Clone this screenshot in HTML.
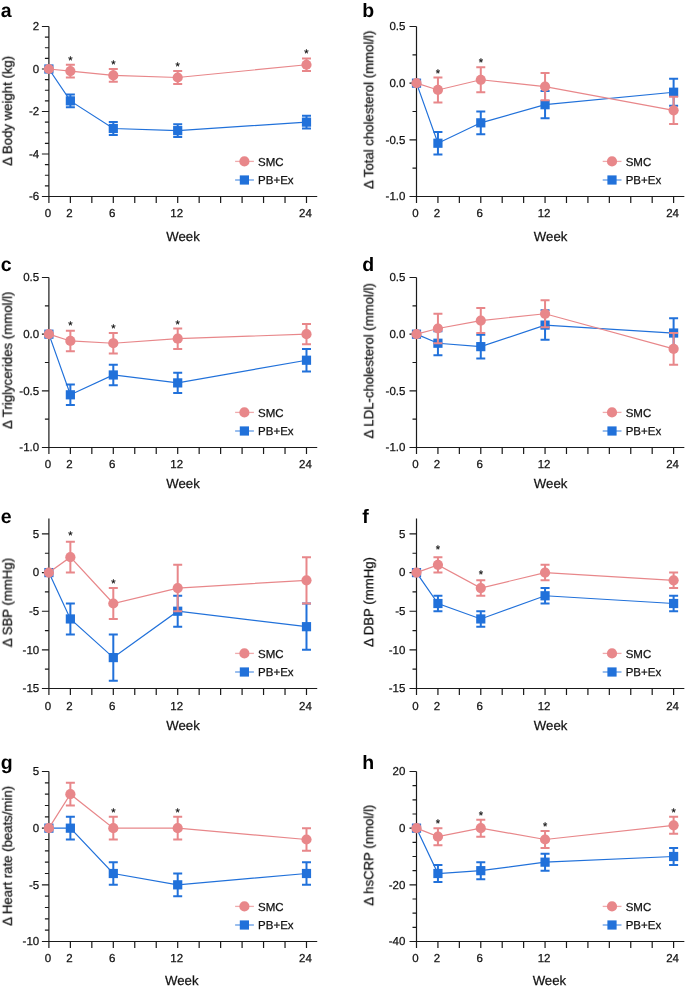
<!DOCTYPE html>
<html><head><meta charset="utf-8"><style>
html,body{margin:0;padding:0;background:#fff;}
svg{display:block;}
text{will-change:transform;text-rendering:geometricPrecision;}
text{font-family:"Liberation Sans",sans-serif;fill:#111;stroke:#111;stroke-width:0.25px;}
.L{stroke:none;}
.L{font-weight:bold;font-size:19.5px;fill:#000;}
.t{font-size:11.5px;}
.w{font-size:13.2px;}
.s{font-size:11px;}
.ax{stroke:#1a1a1a;stroke-width:1.2;fill:none;}
</style></head><body>
<svg width="685" height="987" viewBox="0 0 685 987">
<rect width="685" height="987" fill="#fff"/>
<text class="L" x="0.8" y="17.0">a</text>
<path class="ax" d="M48.9 26.5V196.5H317.22"/>
<path class="ax" d="M41.9 196.5H48.9M44.9 185.88H48.9M44.9 175.25H48.9M44.9 164.62H48.9M41.9 154H48.9M44.9 143.38H48.9M44.9 132.75H48.9M44.9 122.12H48.9M41.9 111.5H48.9M44.9 100.88H48.9M44.9 90.25H48.9M44.9 79.62H48.9M41.9 69H48.9M44.9 58.38H48.9M44.9 47.75H48.9M44.9 37.12H48.9M41.9 26.5H48.9M48.9 196.5v6.5M70.37 196.5v6.5M91.83 196.5v6.5M113.3 196.5v6.5M134.76 196.5v6.5M156.23 196.5v6.5M177.7 196.5v6.5M199.16 196.5v6.5M220.63 196.5v6.5M242.09 196.5v6.5M263.56 196.5v6.5M285.03 196.5v6.5M306.49 196.5v6.5"/>
<text class="t" x="39.2" y="30.4" text-anchor="end">2</text>
<text class="t" x="39.2" y="72.9" text-anchor="end">0</text>
<text class="t" x="39.2" y="115.4" text-anchor="end">-2</text>
<text class="t" x="39.2" y="157.9" text-anchor="end">-4</text>
<text class="t" x="39.2" y="200.4" text-anchor="end">-6</text>
<text class="t" x="47.9" y="217.1" text-anchor="middle">0</text>
<text class="t" x="69.37" y="217.1" text-anchor="middle">2</text>
<text class="t" x="112.3" y="217.1" text-anchor="middle">6</text>
<text class="t" x="176.7" y="217.1" text-anchor="middle">12</text>
<text class="t" x="305.49" y="217.1" text-anchor="middle">24</text>
<text class="w" x="183" y="240.8" text-anchor="middle">Week</text>
<text class="w" transform="translate(11.8 110.8) rotate(-90)" text-anchor="middle">Δ Body weight (kg)</text>
<polyline fill="none" stroke="#2171DA" stroke-width="1.2" points="48.9,69 70.37,100.88 113.3,128.5 177.7,130.62 306.49,122.12"/>
<path stroke="#2171DA" stroke-width="2" fill="none" d="M70.37 94.5V107.25M65.87 94.5h9M65.87 107.25h9"/>
<path stroke="#2171DA" stroke-width="2" fill="none" d="M113.3 122.12V134.88M108.8 122.12h9M108.8 134.88h9"/>
<path stroke="#2171DA" stroke-width="2" fill="none" d="M177.7 124.25V137M173.2 124.25h9M173.2 137h9"/>
<path stroke="#2171DA" stroke-width="2" fill="none" d="M306.49 115.75V128.5M301.99 115.75h9M301.99 128.5h9"/>
<rect x="44.3" y="64.4" width="9.2" height="9.2" fill="#2171DA"/>
<rect x="65.77" y="96.28" width="9.2" height="9.2" fill="#2171DA"/>
<rect x="108.7" y="123.9" width="9.2" height="9.2" fill="#2171DA"/>
<rect x="173.1" y="126.03" width="9.2" height="9.2" fill="#2171DA"/>
<rect x="301.89" y="117.53" width="9.2" height="9.2" fill="#2171DA"/>
<polyline fill="none" stroke="#E8878A" stroke-width="1.2" points="48.9,69 70.37,71.12 113.3,75.38 177.7,77.5 306.49,64.75"/>
<path stroke="#E8878A" stroke-width="2" fill="none" d="M70.37 64.75V77.5M65.87 64.75h9M65.87 77.5h9"/>
<path stroke="#E8878A" stroke-width="2" fill="none" d="M113.3 69V81.75M108.8 69h9M108.8 81.75h9"/>
<path stroke="#E8878A" stroke-width="2" fill="none" d="M177.7 71.12V83.88M173.2 71.12h9M173.2 83.88h9"/>
<path stroke="#E8878A" stroke-width="2" fill="none" d="M306.49 58.38V71.12M301.99 58.38h9M301.99 71.12h9"/>
<circle cx="48.9" cy="69" r="5.1" fill="#E8878A"/>
<circle cx="70.37" cy="71.12" r="5.1" fill="#E8878A"/>
<circle cx="113.3" cy="75.38" r="5.1" fill="#E8878A"/>
<circle cx="177.7" cy="77.5" r="5.1" fill="#E8878A"/>
<circle cx="306.49" cy="64.75" r="5.1" fill="#E8878A"/>
<text class="s" x="70.37" y="63.85" text-anchor="middle">*</text>
<text class="s" x="113.3" y="68.1" text-anchor="middle">*</text>
<text class="s" x="177.7" y="70.22" text-anchor="middle">*</text>
<text class="s" x="306.49" y="57.48" text-anchor="middle">*</text>
<path stroke="#E8878A" stroke-opacity="0.7" stroke-width="1.3" d="M235.1 161.4h18.8"/>
<circle cx="244.4" cy="161.4" r="5.1" fill="#E8878A"/>
<text class="t" x="258.1" y="165.7">SMC</text>
<path stroke="#2171DA" stroke-opacity="0.7" stroke-width="1.3" d="M235.1 180h18.8"/>
<rect x="239.8" y="175.4" width="9.2" height="9.2" fill="#2171DA"/>
<text class="t" x="258.1" y="184.3">PB+Ex</text>
<text class="L" x="362.3" y="17.0">b</text>
<path class="ax" d="M416.5 26.5V196.5H684.33"/>
<path class="ax" d="M409.5 196.5H416.5M412.5 168.17H416.5M409.5 139.83H416.5M412.5 111.5H416.5M409.5 83.17H416.5M412.5 54.83H416.5M409.5 26.5H416.5M416.5 196.5v6.5M437.93 196.5v6.5M459.35 196.5v6.5M480.78 196.5v6.5M502.2 196.5v6.5M523.63 196.5v6.5M545.06 196.5v6.5M566.48 196.5v6.5M587.91 196.5v6.5M609.33 196.5v6.5M630.76 196.5v6.5M652.19 196.5v6.5M673.61 196.5v6.5"/>
<text class="t" x="405.4" y="30.4" text-anchor="end">0.5</text>
<text class="t" x="405.4" y="87.07" text-anchor="end">0.0</text>
<text class="t" x="405.4" y="143.73" text-anchor="end">-0.5</text>
<text class="t" x="405.4" y="200.4" text-anchor="end">-1.0</text>
<text class="t" x="415.5" y="217.1" text-anchor="middle">0</text>
<text class="t" x="436.93" y="217.1" text-anchor="middle">2</text>
<text class="t" x="479.78" y="217.1" text-anchor="middle">6</text>
<text class="t" x="544.06" y="217.1" text-anchor="middle">12</text>
<text class="t" x="672.61" y="217.1" text-anchor="middle">24</text>
<text class="w" x="550.6" y="240.8" text-anchor="middle">Week</text>
<text class="w" transform="translate(373.2 109.75) rotate(-90)" text-anchor="middle">Δ Total cholesterol (mmol/l)</text>
<polyline fill="none" stroke="#2171DA" stroke-width="1.2" points="416.5,83.17 437.93,143.23 480.78,122.83 545.06,104.7 673.61,92.23"/>
<path stroke="#2171DA" stroke-width="2" fill="none" d="M437.93 131.9V154.57M433.43 131.9h9M433.43 154.57h9"/>
<path stroke="#2171DA" stroke-width="2" fill="none" d="M480.78 111.5V134.17M476.28 111.5h9M476.28 134.17h9"/>
<path stroke="#2171DA" stroke-width="2" fill="none" d="M545.06 91.1V118.3M540.56 91.1h9M540.56 118.3h9"/>
<path stroke="#2171DA" stroke-width="2" fill="none" d="M673.61 78.63V105.83M669.11 78.63h9M669.11 105.83h9"/>
<rect x="411.9" y="78.57" width="9.2" height="9.2" fill="#2171DA"/>
<rect x="433.33" y="138.63" width="9.2" height="9.2" fill="#2171DA"/>
<rect x="476.18" y="118.23" width="9.2" height="9.2" fill="#2171DA"/>
<rect x="540.46" y="100.1" width="9.2" height="9.2" fill="#2171DA"/>
<rect x="669.01" y="87.63" width="9.2" height="9.2" fill="#2171DA"/>
<polyline fill="none" stroke="#E8878A" stroke-width="1.2" points="416.5,83.17 437.93,89.97 480.78,79.77 545.06,86.57 673.61,110.37"/>
<path stroke="#E8878A" stroke-width="2" fill="none" d="M437.93 77.5V102.43M433.43 77.5h9M433.43 102.43h9"/>
<path stroke="#E8878A" stroke-width="2" fill="none" d="M480.78 67.3V92.23M476.28 67.3h9M476.28 92.23h9"/>
<path stroke="#E8878A" stroke-width="2" fill="none" d="M545.06 72.97V100.17M540.56 72.97h9M540.56 100.17h9"/>
<path stroke="#E8878A" stroke-width="2" fill="none" d="M673.61 96.77V123.97M669.11 96.77h9M669.11 123.97h9"/>
<circle cx="416.5" cy="83.17" r="5.1" fill="#E8878A"/>
<circle cx="437.93" cy="89.97" r="5.1" fill="#E8878A"/>
<circle cx="480.78" cy="79.77" r="5.1" fill="#E8878A"/>
<circle cx="545.06" cy="86.57" r="5.1" fill="#E8878A"/>
<circle cx="673.61" cy="110.37" r="5.1" fill="#E8878A"/>
<text class="s" x="437.93" y="76.6" text-anchor="middle">*</text>
<text class="s" x="480.78" y="66.4" text-anchor="middle">*</text>
<path stroke="#E8878A" stroke-opacity="0.7" stroke-width="1.3" d="M602.7 161.4h18.8"/>
<circle cx="612" cy="161.4" r="5.1" fill="#E8878A"/>
<text class="t" x="625.7" y="165.7">SMC</text>
<path stroke="#2171DA" stroke-opacity="0.7" stroke-width="1.3" d="M602.7 180h18.8"/>
<rect x="607.4" y="175.4" width="9.2" height="9.2" fill="#2171DA"/>
<text class="t" x="625.7" y="184.3">PB+Ex</text>
<text class="L" x="0.8" y="271.0">c</text>
<path class="ax" d="M48.9 277.5V447.5H317.22"/>
<path class="ax" d="M41.9 447.5H48.9M44.9 419.17H48.9M41.9 390.83H48.9M44.9 362.5H48.9M41.9 334.17H48.9M44.9 305.83H48.9M41.9 277.5H48.9M48.9 447.5v6.5M70.37 447.5v6.5M91.83 447.5v6.5M113.3 447.5v6.5M134.76 447.5v6.5M156.23 447.5v6.5M177.7 447.5v6.5M199.16 447.5v6.5M220.63 447.5v6.5M242.09 447.5v6.5M263.56 447.5v6.5M285.03 447.5v6.5M306.49 447.5v6.5"/>
<text class="t" x="39.2" y="281.4" text-anchor="end">0.5</text>
<text class="t" x="39.2" y="338.07" text-anchor="end">0.0</text>
<text class="t" x="39.2" y="394.73" text-anchor="end">-0.5</text>
<text class="t" x="39.2" y="451.4" text-anchor="end">-1.0</text>
<text class="t" x="47.9" y="468.2" text-anchor="middle">0</text>
<text class="t" x="69.37" y="468.2" text-anchor="middle">2</text>
<text class="t" x="112.3" y="468.2" text-anchor="middle">6</text>
<text class="t" x="176.7" y="468.2" text-anchor="middle">12</text>
<text class="t" x="305.49" y="468.2" text-anchor="middle">24</text>
<text class="w" x="183" y="487.8" text-anchor="middle">Week</text>
<text class="w" transform="translate(11.8 360.3) rotate(-90)" text-anchor="middle">Δ Triglycerides (mmol/l)</text>
<polyline fill="none" stroke="#2171DA" stroke-width="1.2" points="48.9,334.17 70.37,394.8 113.3,374.97 177.7,382.9 306.49,360.23"/>
<path stroke="#2171DA" stroke-width="2" fill="none" d="M70.37 384.6V405M65.87 384.6h9M65.87 405h9"/>
<path stroke="#2171DA" stroke-width="2" fill="none" d="M113.3 364.77V385.17M108.8 364.77h9M108.8 385.17h9"/>
<path stroke="#2171DA" stroke-width="2" fill="none" d="M177.7 372.7V393.1M173.2 372.7h9M173.2 393.1h9"/>
<path stroke="#2171DA" stroke-width="2" fill="none" d="M306.49 348.9V371.57M301.99 348.9h9M301.99 371.57h9"/>
<rect x="44.3" y="329.57" width="9.2" height="9.2" fill="#2171DA"/>
<rect x="65.77" y="390.2" width="9.2" height="9.2" fill="#2171DA"/>
<rect x="108.7" y="370.37" width="9.2" height="9.2" fill="#2171DA"/>
<rect x="173.1" y="378.3" width="9.2" height="9.2" fill="#2171DA"/>
<rect x="301.89" y="355.63" width="9.2" height="9.2" fill="#2171DA"/>
<polyline fill="none" stroke="#E8878A" stroke-width="1.2" points="48.9,334.17 70.37,340.97 113.3,343.23 177.7,338.7 306.49,334.17"/>
<path stroke="#E8878A" stroke-width="2" fill="none" d="M70.37 330.77V351.17M65.87 330.77h9M65.87 351.17h9"/>
<path stroke="#E8878A" stroke-width="2" fill="none" d="M113.3 333.03V353.43M108.8 333.03h9M108.8 353.43h9"/>
<path stroke="#E8878A" stroke-width="2" fill="none" d="M177.7 328.5V348.9M173.2 328.5h9M173.2 348.9h9"/>
<path stroke="#E8878A" stroke-width="2" fill="none" d="M306.49 323.97V344.37M301.99 323.97h9M301.99 344.37h9"/>
<circle cx="48.9" cy="334.17" r="5.1" fill="#E8878A"/>
<circle cx="70.37" cy="340.97" r="5.1" fill="#E8878A"/>
<circle cx="113.3" cy="343.23" r="5.1" fill="#E8878A"/>
<circle cx="177.7" cy="338.7" r="5.1" fill="#E8878A"/>
<circle cx="306.49" cy="334.17" r="5.1" fill="#E8878A"/>
<text class="s" x="70.37" y="329.37" text-anchor="middle">*</text>
<text class="s" x="113.3" y="331.53" text-anchor="middle">*</text>
<text class="s" x="177.7" y="327.6" text-anchor="middle">*</text>
<path stroke="#E8878A" stroke-opacity="0.7" stroke-width="1.3" d="M235.1 412.4h18.8"/>
<circle cx="244.4" cy="412.4" r="5.1" fill="#E8878A"/>
<text class="t" x="258.1" y="416.7">SMC</text>
<path stroke="#2171DA" stroke-opacity="0.7" stroke-width="1.3" d="M235.1 431h18.8"/>
<rect x="239.8" y="426.4" width="9.2" height="9.2" fill="#2171DA"/>
<text class="t" x="258.1" y="435.3">PB+Ex</text>
<text class="L" x="362.3" y="271.0">d</text>
<path class="ax" d="M416.5 277.5V447.5H684.33"/>
<path class="ax" d="M409.5 447.5H416.5M412.5 419.17H416.5M409.5 390.83H416.5M412.5 362.5H416.5M409.5 334.17H416.5M412.5 305.83H416.5M409.5 277.5H416.5M416.5 447.5v6.5M437.93 447.5v6.5M459.35 447.5v6.5M480.78 447.5v6.5M502.2 447.5v6.5M523.63 447.5v6.5M545.06 447.5v6.5M566.48 447.5v6.5M587.91 447.5v6.5M609.33 447.5v6.5M630.76 447.5v6.5M652.19 447.5v6.5M673.61 447.5v6.5"/>
<text class="t" x="405.4" y="281.4" text-anchor="end">0.5</text>
<text class="t" x="405.4" y="338.07" text-anchor="end">0.0</text>
<text class="t" x="405.4" y="394.73" text-anchor="end">-0.5</text>
<text class="t" x="405.4" y="451.4" text-anchor="end">-1.0</text>
<text class="t" x="415.5" y="468.2" text-anchor="middle">0</text>
<text class="t" x="436.93" y="468.2" text-anchor="middle">2</text>
<text class="t" x="479.78" y="468.2" text-anchor="middle">6</text>
<text class="t" x="544.06" y="468.2" text-anchor="middle">12</text>
<text class="t" x="672.61" y="468.2" text-anchor="middle">24</text>
<text class="w" x="550.6" y="487.8" text-anchor="middle">Week</text>
<text class="w" transform="translate(373.2 360.75) rotate(-90)" text-anchor="middle">Δ LDL-cholesterol (mmol/l)</text>
<polyline fill="none" stroke="#2171DA" stroke-width="1.2" points="416.5,334.17 437.93,343.23 480.78,346.63 545.06,325.1 673.61,333.03"/>
<path stroke="#2171DA" stroke-width="2" fill="none" d="M437.93 331.33V355.13M433.43 331.33h9M433.43 355.13h9"/>
<path stroke="#2171DA" stroke-width="2" fill="none" d="M480.78 334.73V358.53M476.28 334.73h9M476.28 358.53h9"/>
<path stroke="#2171DA" stroke-width="2" fill="none" d="M545.06 310.37V339.83M540.56 310.37h9M540.56 339.83h9"/>
<path stroke="#2171DA" stroke-width="2" fill="none" d="M673.61 318.3V347.77M669.11 318.3h9M669.11 347.77h9"/>
<rect x="411.9" y="329.57" width="9.2" height="9.2" fill="#2171DA"/>
<rect x="433.33" y="338.63" width="9.2" height="9.2" fill="#2171DA"/>
<rect x="476.18" y="342.03" width="9.2" height="9.2" fill="#2171DA"/>
<rect x="540.46" y="320.5" width="9.2" height="9.2" fill="#2171DA"/>
<rect x="669.01" y="328.43" width="9.2" height="9.2" fill="#2171DA"/>
<polyline fill="none" stroke="#E8878A" stroke-width="1.2" points="416.5,334.17 437.93,328.5 480.78,320.57 545.06,313.77 673.61,348.9"/>
<path stroke="#E8878A" stroke-width="2" fill="none" d="M437.93 313.77V343.23M433.43 313.77h9M433.43 343.23h9"/>
<path stroke="#E8878A" stroke-width="2" fill="none" d="M480.78 308.1V333.03M476.28 308.1h9M476.28 333.03h9"/>
<path stroke="#E8878A" stroke-width="2" fill="none" d="M545.06 300.17V327.37M540.56 300.17h9M540.56 327.37h9"/>
<path stroke="#E8878A" stroke-width="2" fill="none" d="M673.61 333.03V364.77M669.11 333.03h9M669.11 364.77h9"/>
<circle cx="416.5" cy="334.17" r="5.1" fill="#E8878A"/>
<circle cx="437.93" cy="328.5" r="5.1" fill="#E8878A"/>
<circle cx="480.78" cy="320.57" r="5.1" fill="#E8878A"/>
<circle cx="545.06" cy="313.77" r="5.1" fill="#E8878A"/>
<circle cx="673.61" cy="348.9" r="5.1" fill="#E8878A"/>
<path stroke="#E8878A" stroke-opacity="0.7" stroke-width="1.3" d="M602.7 412.4h18.8"/>
<circle cx="612" cy="412.4" r="5.1" fill="#E8878A"/>
<text class="t" x="625.7" y="416.7">SMC</text>
<path stroke="#2171DA" stroke-opacity="0.7" stroke-width="1.3" d="M602.7 431h18.8"/>
<rect x="607.4" y="426.4" width="9.2" height="9.2" fill="#2171DA"/>
<text class="t" x="625.7" y="435.3">PB+Ex</text>
<text class="L" x="0.8" y="523.4">e</text>
<path class="ax" d="M48.9 518.5V688.5H317.22"/>
<path class="ax" d="M41.9 688.5H48.9M44.9 669.18H48.9M41.9 649.86H48.9M44.9 630.55H48.9M41.9 611.23H48.9M44.9 591.91H48.9M41.9 572.59H48.9M44.9 553.27H48.9M41.9 533.95H48.9M48.9 688.5v6.5M70.37 688.5v6.5M91.83 688.5v6.5M113.3 688.5v6.5M134.76 688.5v6.5M156.23 688.5v6.5M177.7 688.5v6.5M199.16 688.5v6.5M220.63 688.5v6.5M242.09 688.5v6.5M263.56 688.5v6.5M285.03 688.5v6.5M306.49 688.5v6.5"/>
<text class="t" x="39.2" y="537.85" text-anchor="end">5</text>
<text class="t" x="39.2" y="576.49" text-anchor="end">0</text>
<text class="t" x="39.2" y="615.13" text-anchor="end">-5</text>
<text class="t" x="39.2" y="653.76" text-anchor="end">-10</text>
<text class="t" x="39.2" y="692.4" text-anchor="end">-15</text>
<text class="t" x="47.9" y="709.7" text-anchor="middle">0</text>
<text class="t" x="69.37" y="709.7" text-anchor="middle">2</text>
<text class="t" x="112.3" y="709.7" text-anchor="middle">6</text>
<text class="t" x="176.7" y="709.7" text-anchor="middle">12</text>
<text class="t" x="305.49" y="709.7" text-anchor="middle">24</text>
<text class="w" x="183" y="729.9" text-anchor="middle">Week</text>
<text class="w" transform="translate(11.8 602.5) rotate(-90)" text-anchor="middle">Δ SBP (mmHg)</text>
<polyline fill="none" stroke="#2171DA" stroke-width="1.2" points="48.9,572.59 70.37,618.95 113.3,657.59 177.7,611.23 306.49,626.68"/>
<path stroke="#2171DA" stroke-width="2" fill="none" d="M70.37 603.5V634.41M65.87 603.5h9M65.87 634.41h9"/>
<path stroke="#2171DA" stroke-width="2" fill="none" d="M113.3 634.41V680.77M108.8 634.41h9M108.8 680.77h9"/>
<path stroke="#2171DA" stroke-width="2" fill="none" d="M177.7 595.77V626.68M173.2 595.77h9M173.2 626.68h9"/>
<path stroke="#2171DA" stroke-width="2" fill="none" d="M306.49 603.5V649.86M301.99 603.5h9M301.99 649.86h9"/>
<rect x="44.3" y="567.99" width="9.2" height="9.2" fill="#2171DA"/>
<rect x="65.77" y="614.35" width="9.2" height="9.2" fill="#2171DA"/>
<rect x="108.7" y="652.99" width="9.2" height="9.2" fill="#2171DA"/>
<rect x="173.1" y="606.63" width="9.2" height="9.2" fill="#2171DA"/>
<rect x="301.89" y="622.08" width="9.2" height="9.2" fill="#2171DA"/>
<polyline fill="none" stroke="#E8878A" stroke-width="1.2" points="48.9,572.59 70.37,557.14 113.3,603.5 177.7,588.05 306.49,580.32"/>
<path stroke="#E8878A" stroke-width="2" fill="none" d="M70.37 541.68V572.59M65.87 541.68h9M65.87 572.59h9"/>
<path stroke="#E8878A" stroke-width="2" fill="none" d="M113.3 588.05V618.95M108.8 588.05h9M108.8 618.95h9"/>
<path stroke="#E8878A" stroke-width="2" fill="none" d="M177.7 564.86V611.23M173.2 564.86h9M173.2 611.23h9"/>
<path stroke="#E8878A" stroke-width="2" fill="none" d="M306.49 557.14V603.5M301.99 557.14h9M301.99 603.5h9"/>
<circle cx="48.9" cy="572.59" r="5.1" fill="#E8878A"/>
<circle cx="70.37" cy="557.14" r="5.1" fill="#E8878A"/>
<circle cx="113.3" cy="603.5" r="5.1" fill="#E8878A"/>
<circle cx="177.7" cy="588.05" r="5.1" fill="#E8878A"/>
<circle cx="306.49" cy="580.32" r="5.1" fill="#E8878A"/>
<text class="s" x="70.37" y="538.98" text-anchor="middle">*</text>
<text class="s" x="113.3" y="587.15" text-anchor="middle">*</text>
<path stroke="#E8878A" stroke-opacity="0.7" stroke-width="1.3" d="M235.1 653.4h18.8"/>
<circle cx="244.4" cy="653.4" r="5.1" fill="#E8878A"/>
<text class="t" x="258.1" y="657.7">SMC</text>
<path stroke="#2171DA" stroke-opacity="0.7" stroke-width="1.3" d="M235.1 672h18.8"/>
<rect x="239.8" y="667.4" width="9.2" height="9.2" fill="#2171DA"/>
<text class="t" x="258.1" y="676.3">PB+Ex</text>
<text class="L" x="362.3" y="523.4">f</text>
<path class="ax" d="M416.5 518.5V688.5H684.33"/>
<path class="ax" d="M409.5 688.5H416.5M412.5 669.18H416.5M409.5 649.86H416.5M412.5 630.55H416.5M409.5 611.23H416.5M412.5 591.91H416.5M409.5 572.59H416.5M412.5 553.27H416.5M409.5 533.95H416.5M416.5 688.5v6.5M437.93 688.5v6.5M459.35 688.5v6.5M480.78 688.5v6.5M502.2 688.5v6.5M523.63 688.5v6.5M545.06 688.5v6.5M566.48 688.5v6.5M587.91 688.5v6.5M609.33 688.5v6.5M630.76 688.5v6.5M652.19 688.5v6.5M673.61 688.5v6.5"/>
<text class="t" x="405.4" y="537.85" text-anchor="end">5</text>
<text class="t" x="405.4" y="576.49" text-anchor="end">0</text>
<text class="t" x="405.4" y="615.13" text-anchor="end">-5</text>
<text class="t" x="405.4" y="653.76" text-anchor="end">-10</text>
<text class="t" x="405.4" y="692.4" text-anchor="end">-15</text>
<text class="t" x="415.5" y="709.7" text-anchor="middle">0</text>
<text class="t" x="436.93" y="709.7" text-anchor="middle">2</text>
<text class="t" x="479.78" y="709.7" text-anchor="middle">6</text>
<text class="t" x="544.06" y="709.7" text-anchor="middle">12</text>
<text class="t" x="672.61" y="709.7" text-anchor="middle">24</text>
<text class="w" x="550.6" y="729.9" text-anchor="middle">Week</text>
<text class="w" transform="translate(373.2 602) rotate(-90)" text-anchor="middle">Δ DBP (mmHg)</text>
<polyline fill="none" stroke="#2171DA" stroke-width="1.2" points="416.5,572.59 437.93,603.5 480.78,618.95 545.06,595.77 673.61,603.5"/>
<path stroke="#2171DA" stroke-width="2" fill="none" d="M437.93 595.77V611.23M433.43 595.77h9M433.43 611.23h9"/>
<path stroke="#2171DA" stroke-width="2" fill="none" d="M480.78 611.23V626.68M476.28 611.23h9M476.28 626.68h9"/>
<path stroke="#2171DA" stroke-width="2" fill="none" d="M545.06 588.05V603.5M540.56 588.05h9M540.56 603.5h9"/>
<path stroke="#2171DA" stroke-width="2" fill="none" d="M673.61 595.77V611.23M669.11 595.77h9M669.11 611.23h9"/>
<rect x="411.9" y="567.99" width="9.2" height="9.2" fill="#2171DA"/>
<rect x="433.33" y="598.9" width="9.2" height="9.2" fill="#2171DA"/>
<rect x="476.18" y="614.35" width="9.2" height="9.2" fill="#2171DA"/>
<rect x="540.46" y="591.17" width="9.2" height="9.2" fill="#2171DA"/>
<rect x="669.01" y="598.9" width="9.2" height="9.2" fill="#2171DA"/>
<polyline fill="none" stroke="#E8878A" stroke-width="1.2" points="416.5,572.59 437.93,564.86 480.78,588.05 545.06,572.59 673.61,580.32"/>
<path stroke="#E8878A" stroke-width="2" fill="none" d="M437.93 557.14V572.59M433.43 557.14h9M433.43 572.59h9"/>
<path stroke="#E8878A" stroke-width="2" fill="none" d="M480.78 580.32V595.77M476.28 580.32h9M476.28 595.77h9"/>
<path stroke="#E8878A" stroke-width="2" fill="none" d="M545.06 564.86V580.32M540.56 564.86h9M540.56 580.32h9"/>
<path stroke="#E8878A" stroke-width="2" fill="none" d="M673.61 572.59V588.05M669.11 572.59h9M669.11 588.05h9"/>
<circle cx="416.5" cy="572.59" r="5.1" fill="#E8878A"/>
<circle cx="437.93" cy="564.86" r="5.1" fill="#E8878A"/>
<circle cx="480.78" cy="588.05" r="5.1" fill="#E8878A"/>
<circle cx="545.06" cy="572.59" r="5.1" fill="#E8878A"/>
<circle cx="673.61" cy="580.32" r="5.1" fill="#E8878A"/>
<text class="s" x="437.93" y="552.94" text-anchor="middle">*</text>
<text class="s" x="480.78" y="578.22" text-anchor="middle">*</text>
<path stroke="#E8878A" stroke-opacity="0.7" stroke-width="1.3" d="M602.7 653.4h18.8"/>
<circle cx="612" cy="653.4" r="5.1" fill="#E8878A"/>
<text class="t" x="625.7" y="657.7">SMC</text>
<path stroke="#2171DA" stroke-opacity="0.7" stroke-width="1.3" d="M602.7 672h18.8"/>
<rect x="607.4" y="667.4" width="9.2" height="9.2" fill="#2171DA"/>
<text class="t" x="625.7" y="676.3">PB+Ex</text>
<text class="L" x="0.8" y="769.1">g</text>
<path class="ax" d="M48.9 771.5V941.5H317.22"/>
<path class="ax" d="M41.9 941.5H48.9M44.9 930.17H48.9M44.9 918.83H48.9M44.9 907.5H48.9M44.9 896.17H48.9M41.9 884.83H48.9M44.9 873.5H48.9M44.9 862.17H48.9M44.9 850.83H48.9M44.9 839.5H48.9M41.9 828.17H48.9M44.9 816.83H48.9M44.9 805.5H48.9M44.9 794.17H48.9M44.9 782.83H48.9M41.9 771.5H48.9M48.9 941.5v6.5M70.37 941.5v6.5M91.83 941.5v6.5M113.3 941.5v6.5M134.76 941.5v6.5M156.23 941.5v6.5M177.7 941.5v6.5M199.16 941.5v6.5M220.63 941.5v6.5M242.09 941.5v6.5M263.56 941.5v6.5M285.03 941.5v6.5M306.49 941.5v6.5"/>
<text class="t" x="39.2" y="775.4" text-anchor="end">5</text>
<text class="t" x="39.2" y="832.07" text-anchor="end">0</text>
<text class="t" x="39.2" y="888.73" text-anchor="end">-5</text>
<text class="t" x="39.2" y="945.4" text-anchor="end">-10</text>
<text class="t" x="47.9" y="962.1" text-anchor="middle">0</text>
<text class="t" x="69.37" y="962.1" text-anchor="middle">2</text>
<text class="t" x="112.3" y="962.1" text-anchor="middle">6</text>
<text class="t" x="176.7" y="962.1" text-anchor="middle">12</text>
<text class="t" x="305.49" y="962.1" text-anchor="middle">24</text>
<text class="w" x="181.8" y="984.8" text-anchor="middle">Week</text>
<text class="w" transform="translate(11.8 855.8) rotate(-90)" text-anchor="middle">Δ Heart rate (beats/min)</text>
<polyline fill="none" stroke="#2171DA" stroke-width="1.2" points="48.9,828.17 70.37,828.17 113.3,873.5 177.7,884.83 306.49,873.5"/>
<path stroke="#2171DA" stroke-width="2" fill="none" d="M70.37 816.83V839.5M65.87 816.83h9M65.87 839.5h9"/>
<path stroke="#2171DA" stroke-width="2" fill="none" d="M113.3 862.17V884.83M108.8 862.17h9M108.8 884.83h9"/>
<path stroke="#2171DA" stroke-width="2" fill="none" d="M177.7 873.5V896.17M173.2 873.5h9M173.2 896.17h9"/>
<path stroke="#2171DA" stroke-width="2" fill="none" d="M306.49 862.17V884.83M301.99 862.17h9M301.99 884.83h9"/>
<rect x="44.3" y="823.57" width="9.2" height="9.2" fill="#2171DA"/>
<rect x="65.77" y="823.57" width="9.2" height="9.2" fill="#2171DA"/>
<rect x="108.7" y="868.9" width="9.2" height="9.2" fill="#2171DA"/>
<rect x="173.1" y="880.23" width="9.2" height="9.2" fill="#2171DA"/>
<rect x="301.89" y="868.9" width="9.2" height="9.2" fill="#2171DA"/>
<polyline fill="none" stroke="#E8878A" stroke-width="1.2" points="48.9,828.17 70.37,794.17 113.3,828.17 177.7,828.17 306.49,839.5"/>
<path stroke="#E8878A" stroke-width="2" fill="none" d="M70.37 782.83V805.5M65.87 782.83h9M65.87 805.5h9"/>
<path stroke="#E8878A" stroke-width="2" fill="none" d="M113.3 816.83V839.5M108.8 816.83h9M108.8 839.5h9"/>
<path stroke="#E8878A" stroke-width="2" fill="none" d="M177.7 816.83V839.5M173.2 816.83h9M173.2 839.5h9"/>
<path stroke="#E8878A" stroke-width="2" fill="none" d="M306.49 828.17V850.83M301.99 828.17h9M301.99 850.83h9"/>
<circle cx="48.9" cy="828.17" r="5.1" fill="#E8878A"/>
<circle cx="70.37" cy="794.17" r="5.1" fill="#E8878A"/>
<circle cx="113.3" cy="828.17" r="5.1" fill="#E8878A"/>
<circle cx="177.7" cy="828.17" r="5.1" fill="#E8878A"/>
<circle cx="306.49" cy="839.5" r="5.1" fill="#E8878A"/>
<text class="s" x="113.3" y="815.93" text-anchor="middle">*</text>
<text class="s" x="177.7" y="815.93" text-anchor="middle">*</text>
<path stroke="#E8878A" stroke-opacity="0.7" stroke-width="1.3" d="M235.1 906.4h18.8"/>
<circle cx="244.4" cy="906.4" r="5.1" fill="#E8878A"/>
<text class="t" x="258.1" y="910.7">SMC</text>
<path stroke="#2171DA" stroke-opacity="0.7" stroke-width="1.3" d="M235.1 925h18.8"/>
<rect x="239.8" y="920.4" width="9.2" height="9.2" fill="#2171DA"/>
<text class="t" x="258.1" y="929.3">PB+Ex</text>
<text class="L" x="362.3" y="769.1">h</text>
<path class="ax" d="M416.5 771.5V941.5H684.33"/>
<path class="ax" d="M409.5 941.5H416.5M412.5 927.33H416.5M412.5 913.17H416.5M412.5 899H416.5M409.5 884.83H416.5M412.5 870.67H416.5M412.5 856.5H416.5M412.5 842.33H416.5M409.5 828.17H416.5M412.5 814H416.5M412.5 799.83H416.5M412.5 785.67H416.5M409.5 771.5H416.5M416.5 941.5v6.5M437.93 941.5v6.5M459.35 941.5v6.5M480.78 941.5v6.5M502.2 941.5v6.5M523.63 941.5v6.5M545.06 941.5v6.5M566.48 941.5v6.5M587.91 941.5v6.5M609.33 941.5v6.5M630.76 941.5v6.5M652.19 941.5v6.5M673.61 941.5v6.5"/>
<text class="t" x="405.4" y="775.4" text-anchor="end">20</text>
<text class="t" x="405.4" y="832.07" text-anchor="end">0</text>
<text class="t" x="405.4" y="888.73" text-anchor="end">-20</text>
<text class="t" x="405.4" y="945.4" text-anchor="end">-40</text>
<text class="t" x="415.5" y="962.1" text-anchor="middle">0</text>
<text class="t" x="436.93" y="962.1" text-anchor="middle">2</text>
<text class="t" x="479.78" y="962.1" text-anchor="middle">6</text>
<text class="t" x="544.06" y="962.1" text-anchor="middle">12</text>
<text class="t" x="672.61" y="962.1" text-anchor="middle">24</text>
<text class="w" x="549.4" y="984.8" text-anchor="middle">Week</text>
<text class="w" transform="translate(373.2 855.25) rotate(-90)" text-anchor="middle">Δ hsCRP (nmol/l)</text>
<polyline fill="none" stroke="#2171DA" stroke-width="1.2" points="416.5,828.17 437.93,873.5 480.78,870.67 545.06,862.17 673.61,856.5"/>
<path stroke="#2171DA" stroke-width="2" fill="none" d="M437.93 865V882M433.43 865h9M433.43 882h9"/>
<path stroke="#2171DA" stroke-width="2" fill="none" d="M480.78 862.17V879.17M476.28 862.17h9M476.28 879.17h9"/>
<path stroke="#2171DA" stroke-width="2" fill="none" d="M545.06 853.67V870.67M540.56 853.67h9M540.56 870.67h9"/>
<path stroke="#2171DA" stroke-width="2" fill="none" d="M673.61 848V865M669.11 848h9M669.11 865h9"/>
<rect x="411.9" y="823.57" width="9.2" height="9.2" fill="#2171DA"/>
<rect x="433.33" y="868.9" width="9.2" height="9.2" fill="#2171DA"/>
<rect x="476.18" y="866.07" width="9.2" height="9.2" fill="#2171DA"/>
<rect x="540.46" y="857.57" width="9.2" height="9.2" fill="#2171DA"/>
<rect x="669.01" y="851.9" width="9.2" height="9.2" fill="#2171DA"/>
<polyline fill="none" stroke="#E8878A" stroke-width="1.2" points="416.5,828.17 437.93,836.67 480.78,828.17 545.06,839.5 673.61,825.33"/>
<path stroke="#E8878A" stroke-width="2" fill="none" d="M437.93 828.17V845.17M433.43 828.17h9M433.43 845.17h9"/>
<path stroke="#E8878A" stroke-width="2" fill="none" d="M480.78 819.67V836.67M476.28 819.67h9M476.28 836.67h9"/>
<path stroke="#E8878A" stroke-width="2" fill="none" d="M545.06 831V848M540.56 831h9M540.56 848h9"/>
<path stroke="#E8878A" stroke-width="2" fill="none" d="M673.61 816.83V833.83M669.11 816.83h9M669.11 833.83h9"/>
<circle cx="416.5" cy="828.17" r="5.1" fill="#E8878A"/>
<circle cx="437.93" cy="836.67" r="5.1" fill="#E8878A"/>
<circle cx="480.78" cy="828.17" r="5.1" fill="#E8878A"/>
<circle cx="545.06" cy="839.5" r="5.1" fill="#E8878A"/>
<circle cx="673.61" cy="825.33" r="5.1" fill="#E8878A"/>
<text class="s" x="437.93" y="827.27" text-anchor="middle">*</text>
<text class="s" x="480.78" y="818.77" text-anchor="middle">*</text>
<text class="s" x="545.06" y="830.1" text-anchor="middle">*</text>
<text class="s" x="673.61" y="815.93" text-anchor="middle">*</text>
<path stroke="#E8878A" stroke-opacity="0.7" stroke-width="1.3" d="M602.7 906.4h18.8"/>
<circle cx="612" cy="906.4" r="5.1" fill="#E8878A"/>
<text class="t" x="625.7" y="910.7">SMC</text>
<path stroke="#2171DA" stroke-opacity="0.7" stroke-width="1.3" d="M602.7 925h18.8"/>
<rect x="607.4" y="920.4" width="9.2" height="9.2" fill="#2171DA"/>
<text class="t" x="625.7" y="929.3">PB+Ex</text>
</svg>
</body></html>
